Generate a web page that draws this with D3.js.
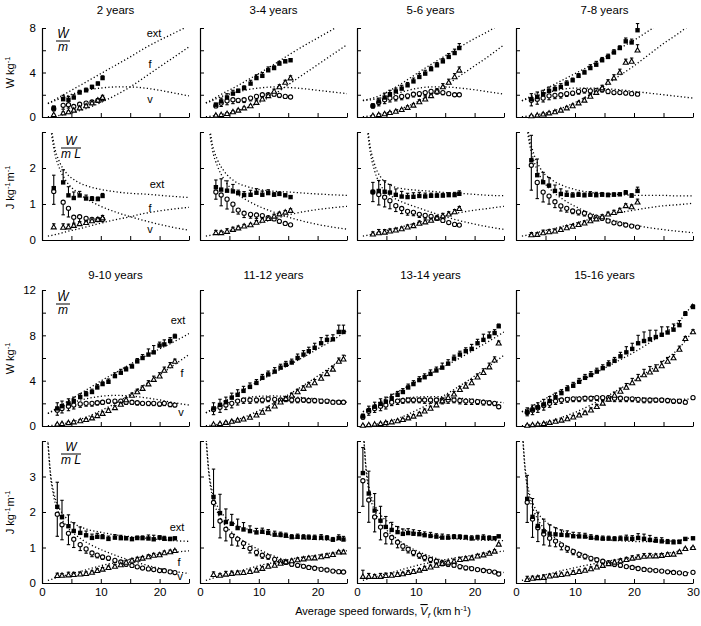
<!DOCTYPE html>
<html>
<head>
<meta charset="utf-8">
<script src="https://cdn.jsdelivr.net/npm/d3@7/dist/d3.min.js"></script>
<style>
body { margin: 0; background: #fff; }
svg text { font-family: "Liberation Sans", Arial, sans-serif; fill: #000; }
</style>
</head>
<body>
<svg id="chart" width="701" height="626"></svg>
<script>
//Age groups, one panel pair per group
var ageGroups = ["2 years", "3-4 years", "5-6 years", "7-8 years",
                 "9-10 years", "11-12 years", "13-14 years", "15-16 years"];

//Measured points: speed (km/h) and mass specific power (W/kg) for ext, f, v
var spd2 = [2.0, 3.6, 4.5, 5.4, 6.4, 7.5, 8.5, 9.5, 10.3];
var ext2 = [0.8, 1.6, 1.55, 1.75, 2.2, 2.4, 2.7, 3.0, 3.5];
var f2 = [0.2, 0.35, 0.45, 0.6, 0.8, 1.0, 1.25, 1.5, 1.75];
var v2 = [0.75, 1.05, 1.1, 0.95, 1.15, 1.25, 1.35, 1.5, 1.65];
var eExt2 = [0.2, 0.35, 0.3, 0.25, 0.2, 0.2, 0.15, 0.15, 0.2];
var eF2 = [0.05, 0.1, 0.1, 0.1, 0.1, 0.1, 0.1, 0.15, 0.2];
var eV2 = [0.2, 0.35, 0.3, 0.3, 0.25, 0.2, 0.15, 0.15, 0.2];

var spd34 = [2.7, 3.6, 4.6, 5.6, 6.5, 7.5, 8.6, 9.6, 10.6, 11.6, 12.6, 13.5, 14.5, 15.4];
var ext34 = [1.1, 1.4, 1.75, 2.1, 2.35, 2.6, 3.0, 3.5, 3.7, 4.2, 4.4, 4.8, 5.0, 5.1];
var f34 = [0.15, 0.2, 0.3, 0.45, 0.6, 0.8, 1.0, 1.3, 1.6, 1.9, 2.3, 2.7, 3.1, 3.5];
var v34 = [1.0, 1.25, 1.45, 1.55, 1.5, 1.55, 1.7, 1.85, 2.0, 2.0, 2.05, 1.95, 1.85, 1.8];
var eExt34 = [0.15, 0.3, 0.35, 0.3, 0.15, 0.2, 0.3, 0.3, 0.3, 0.3, 0.2, 0.2, 0.15, 0.15];
var eF34 = [0.05, 0.05, 0.1, 0.1, 0.1, 0.1, 0.1, 0.15, 0.2, 0.2, 0.2, 0.2, 0.2, 0.2];
var eV34 = [0.15, 0.3, 0.35, 0.35, 0.2, 0.25, 0.25, 0.25, 0.2, 0.2, 0.15, 0.2, 0.15, 0.1];

var spd56 = [2.7, 3.7, 4.7, 5.6, 6.6, 7.6, 8.6, 9.6, 10.6, 11.6, 12.6, 13.6, 14.6, 15.6, 16.6, 17.4];
var ext56 = [1.0, 1.4, 1.75, 2.05, 2.3, 2.55, 2.85, 3.2, 3.6, 3.9, 4.3, 4.65, 5.0, 5.4, 5.75, 6.2];
var f56 = [0.12, 0.2, 0.28, 0.38, 0.5, 0.65, 0.85, 1.05, 1.35, 1.6, 1.9, 2.3, 2.7, 3.1, 3.6, 4.2];
var v56 = [1.0, 1.3, 1.55, 1.7, 1.75, 1.85, 1.9, 2.05, 2.1, 2.2, 2.3, 2.3, 2.2, 2.1, 2.0, 2.0];
var eExt56 = [0.2, 0.3, 0.4, 0.35, 0.3, 0.3, 0.25, 0.3, 0.3, 0.3, 0.25, 0.25, 0.25, 0.3, 0.35, 0.4];
var eF56 = [0.05, 0.1, 0.1, 0.1, 0.1, 0.1, 0.15, 0.15, 0.2, 0.2, 0.25, 0.25, 0.3, 0.3, 0.3, 0.3];
var eV56 = [0.2, 0.3, 0.35, 0.35, 0.3, 0.3, 0.25, 0.25, 0.25, 0.25, 0.25, 0.25, 0.2, 0.15, 0.1, 0.1];

var spd78 = [2.6, 3.6, 4.6, 5.6, 6.6, 7.6, 8.6, 9.6, 10.6, 11.6, 12.6, 13.6, 14.6, 15.6, 16.6, 17.6, 18.6, 19.6, 20.6];
var ext78 = [1.6, 1.8, 2.05, 2.35, 2.5, 2.7, 3.0, 3.3, 3.7, 4.0, 4.4, 4.7, 5.1, 5.4, 5.8, 6.2, 6.8, 6.7, 7.8];
var f78 = [0.1, 0.15, 0.25, 0.35, 0.45, 0.6, 0.8, 1.0, 1.25, 1.5, 1.85, 2.2, 2.6, 3.1, 3.5, 4.0, 4.9, 5.0, 6.0];
var v78 = [1.5, 1.6, 1.7, 1.9, 1.95, 2.0, 2.1, 2.15, 2.3, 2.4, 2.35, 2.4, 2.45, 2.3, 2.2, 2.2, 2.15, 2.1, 2.05];
var eExt78 = [0.5, 0.45, 0.35, 0.35, 0.3, 0.3, 0.25, 0.2, 0.2, 0.2, 0.3, 0.3, 0.25, 0.25, 0.25, 0.2, 0.3, 0.3, 0.6];
var eF78 = [0.05, 0.05, 0.1, 0.1, 0.1, 0.1, 0.15, 0.15, 0.15, 0.2, 0.2, 0.2, 0.25, 0.25, 0.3, 0.3, 0.3, 0.3, 0.5];
var eV78 = [0.5, 0.45, 0.35, 0.35, 0.3, 0.3, 0.25, 0.2, 0.25, 0.25, 0.25, 0.2, 0.2, 0.2, 0.15, 0.15, 0.15, 0.1, 0.1];

var spd910 = [2.6, 3.4, 4.5, 5.4, 6.5, 7.5, 8.5, 9.4, 10.3, 11.3, 12.4, 13.4, 14.3, 15.3, 16.2, 17.1, 18.1, 19.0, 20.0, 20.8, 21.8, 22.6];
var ext910 = [1.55, 1.75, 2.0, 2.2, 2.55, 2.8, 3.0, 3.4, 3.7, 3.9, 4.4, 4.7, 5.0, 5.25, 5.7, 6.0, 6.3, 6.5, 7.1, 7.2, 7.5, 7.9];
var f910 = [0.15, 0.2, 0.28, 0.35, 0.45, 0.55, 0.7, 0.9, 1.1, 1.35, 1.6, 1.9, 2.3, 2.7, 3.0, 3.3, 3.7, 4.1, 4.4, 4.9, 5.3, 5.7];
var v910 = [1.4, 1.55, 1.75, 1.85, 1.95, 2.0, 2.0, 2.05, 2.1, 2.2, 2.2, 2.2, 2.1, 2.1, 2.05, 2.0, 2.0, 2.0, 1.95, 2.0, 1.9, 1.85];
var eExt910 = [0.5, 0.45, 0.4, 0.35, 0.3, 0.25, 0.25, 0.25, 0.2, 0.25, 0.3, 0.3, 0.2, 0.2, 0.25, 0.3, 0.5, 0.6, 0.3, 0.4, 0.3, 0.2];
var eF910 = [0.05, 0.05, 0.1, 0.1, 0.1, 0.1, 0.1, 0.15, 0.15, 0.15, 0.2, 0.2, 0.2, 0.2, 0.25, 0.25, 0.3, 0.3, 0.3, 0.3, 0.3, 0.2];
var eV910 = [0.45, 0.4, 0.4, 0.35, 0.3, 0.25, 0.25, 0.2, 0.2, 0.2, 0.2, 0.2, 0.2, 0.2, 0.2, 0.15, 0.2, 0.2, 0.2, 0.2, 0.2, 0.15];

var spd1112 = [2.3, 3.4, 4.4, 5.4, 6.4, 7.4, 8.5, 9.6, 10.6, 11.6, 12.7, 13.7, 14.6, 15.6, 16.6, 17.6, 18.5, 19.5, 20.6, 21.6, 22.6, 23.6, 24.4];
var ext1112 = [1.55, 1.86, 2.1, 2.5, 2.75, 3.1, 3.45, 3.8, 4.25, 4.55, 4.8, 5.15, 5.4, 5.6, 6.0, 6.3, 6.6, 6.9, 7.3, 7.6, 7.65, 8.3, 8.3];
var f1112 = [0.15, 0.2, 0.3, 0.4, 0.5, 0.6, 0.75, 0.95, 1.2, 1.5, 1.75, 2.1, 2.4, 2.7, 3.0, 3.3, 3.6, 3.8, 4.2, 4.6, 5.0, 5.7, 5.9];
var v1112 = [1.45, 1.65, 1.85, 2.0, 2.2, 2.3, 2.3, 2.3, 2.3, 2.4, 2.35, 2.3, 2.35, 2.3, 2.3, 2.3, 2.25, 2.25, 2.2, 2.2, 2.1, 2.1, 2.1];
var eExt1112 = [0.5, 0.5, 0.45, 0.4, 0.45, 0.4, 0.35, 0.3, 0.3, 0.3, 0.35, 0.3, 0.3, 0.3, 0.35, 0.35, 0.35, 0.4, 0.5, 0.4, 0.4, 0.6, 0.6];
var eF1112 = [0.05, 0.05, 0.1, 0.1, 0.1, 0.1, 0.1, 0.15, 0.15, 0.15, 0.2, 0.2, 0.2, 0.2, 0.25, 0.25, 0.25, 0.3, 0.3, 0.3, 0.3, 0.3, 0.35];
var eV1112 = [0.45, 0.45, 0.4, 0.4, 0.35, 0.3, 0.3, 0.25, 0.25, 0.25, 0.25, 0.2, 0.2, 0.25, 0.25, 0.2, 0.2, 0.2, 0.2, 0.2, 0.15, 0.15, 0.15];

var spd1314 = [1.0, 2.0, 3.0, 4.0, 4.9, 5.9, 6.9, 7.8, 8.7, 9.6, 10.6, 11.5, 12.5, 13.5, 14.5, 15.5, 16.5, 17.5, 18.5, 19.5, 20.5, 21.5, 22.5, 23.4, 24.1];
var ext1314 = [0.86, 1.4, 1.7, 1.95, 2.15, 2.45, 2.75, 3.0, 3.4, 3.7, 4.05, 4.3, 4.6, 4.9, 5.15, 5.5, 5.95, 6.3, 6.6, 6.8, 7.3, 7.6, 7.9, 8.2, 8.8];
var f1314 = [0.05, 0.1, 0.15, 0.2, 0.28, 0.35, 0.45, 0.55, 0.7, 0.85, 1.05, 1.3, 1.55, 1.85, 2.2, 2.5, 2.8, 3.2, 3.5, 3.8, 4.3, 4.7, 5.2, 5.8, 7.3];
var v1314 = [0.8, 1.3, 1.55, 1.75, 1.85, 2.1, 2.2, 2.25, 2.3, 2.3, 2.3, 2.3, 2.3, 2.3, 2.3, 2.3, 2.3, 2.25, 2.2, 2.2, 2.15, 2.1, 2.05, 2.0, 1.7];
var eExt1314 = [0.2, 0.35, 0.4, 0.45, 0.4, 0.35, 0.3, 0.3, 0.3, 0.3, 0.3, 0.3, 0.35, 0.3, 0.4, 0.35, 0.3, 0.3, 0.3, 0.4, 0.35, 0.5, 0.4, 0.3, 0.2];
var eF1314 = [0.05, 0.05, 0.05, 0.1, 0.1, 0.1, 0.1, 0.1, 0.15, 0.15, 0.15, 0.2, 0.2, 0.2, 0.25, 0.25, 0.25, 0.3, 0.3, 0.3, 0.3, 0.35, 0.35, 0.3, 0.2];
var eV1314 = [0.2, 0.35, 0.35, 0.4, 0.35, 0.3, 0.3, 0.25, 0.25, 0.25, 0.25, 0.3, 0.3, 0.3, 0.35, 0.3, 0.25, 0.3, 0.3, 0.3, 0.25, 0.25, 0.2, 0.2, 0.15];

var spd1516 = [1.9, 2.8, 3.7, 4.7, 5.7, 6.7, 7.7, 8.7, 9.7, 10.7, 11.7, 12.7, 13.7, 14.7, 15.7, 16.7, 17.7, 18.7, 19.7, 20.7, 21.7, 22.7, 23.7, 24.7, 25.7, 26.7, 27.7, 28.7, 30.0];
var ext1516 = [1.25, 1.45, 1.65, 1.9, 2.2, 2.55, 2.9, 3.25, 3.55, 3.9, 4.25, 4.5, 4.8, 5.1, 5.45, 5.75, 6.15, 6.5, 6.8, 7.3, 7.5, 7.65, 7.85, 8.05, 8.25, 8.5, 8.9, 9.9, 10.5];
var f1516 = [0.05, 0.1, 0.15, 0.2, 0.3, 0.4, 0.5, 0.62, 0.78, 0.95, 1.15, 1.4, 1.7, 2.0, 2.35, 2.7, 3.05, 3.4, 3.8, 4.15, 4.5, 4.75, 5.0, 5.3, 5.7, 6.0, 6.75, 7.7, 8.3];
var v1516 = [1.2, 1.4, 1.6, 1.8, 2.0, 2.2, 2.3, 2.35, 2.4, 2.4, 2.45, 2.45, 2.5, 2.5, 2.5, 2.45, 2.45, 2.4, 2.4, 2.35, 2.3, 2.3, 2.3, 2.3, 2.25, 2.2, 2.2, 2.1, 2.5];
var eExt1516 = [0.35, 0.4, 0.4, 0.45, 0.4, 0.35, 0.3, 0.3, 0.3, 0.3, 0.3, 0.3, 0.3, 0.3, 0.3, 0.3, 0.35, 0.5, 0.5, 0.7, 0.8, 0.8, 0.6, 0.7, 0.5, 0.5, 0.4, 0.2, 0.2];
var eF1516 = [0.05, 0.05, 0.05, 0.1, 0.1, 0.1, 0.1, 0.1, 0.15, 0.15, 0.15, 0.2, 0.2, 0.25, 0.25, 0.3, 0.3, 0.35, 0.4, 0.4, 0.5, 0.5, 0.4, 0.4, 0.35, 0.3, 0.3, 0.2, 0.2];
var eV1516 = [0.3, 0.4, 0.4, 0.4, 0.35, 0.3, 0.3, 0.25, 0.25, 0.25, 0.25, 0.25, 0.25, 0.3, 0.3, 0.3, 0.3, 0.25, 0.25, 0.25, 0.25, 0.25, 0.2, 0.2, 0.2, 0.2, 0.2, 0.15, 0.15];

//Model curves (dotted lines), W/kg read at these speeds
var curveSpeeds = [1, 1.5, 2, 3, 4, 6, 8, 10, 12.5, 15, 17.5, 20, 22.5, 25, 27.5, 30];
var cExt2 = [1.23, 1.36, 1.5, 1.8, 2.1, 2.7, 3.3, 3.9, 4.65, 5.4, 6.2, 6.9, 7.55, 8.2, 8.9, 9.6];
var cF2 = [0.03, 0.05, 0.08, 0.15, 0.25, 0.5, 0.85, 1.3, 1.95, 2.7, 3.6, 4.5, 5.4, 6.3, 7.2, 8.1];
var cV2 = [1.2, 1.31, 1.42, 1.65, 1.85, 2.2, 2.45, 2.6, 2.7, 2.7, 2.6, 2.4, 2.15, 1.9, 1.7, 1.5];
var cExt34 = [1.28, 1.4, 1.53, 1.85, 2.15, 2.7, 3.3, 3.9, 4.7, 5.55, 6.35, 7.1, 7.85, 8.6, 9.35, 10.1];
var cF34 = [0.03, 0.05, 0.08, 0.15, 0.25, 0.5, 0.85, 1.3, 2.0, 2.9, 3.8, 4.7, 5.6, 6.5, 7.4, 8.3];
var cV34 = [1.25, 1.35, 1.45, 1.7, 1.9, 2.2, 2.45, 2.6, 2.7, 2.65, 2.55, 2.4, 2.25, 2.1, 1.95, 1.8];
var cExt56 = [1.5, 1.55, 1.6, 1.75, 1.95, 2.5, 3.15, 3.85, 4.7, 5.5, 6.3, 7.05, 7.75, 8.55, 9.25, 9.95];
var cF56 = [0.03, 0.05, 0.08, 0.15, 0.25, 0.5, 0.85, 1.3, 2.0, 2.8, 3.7, 4.6, 5.5, 6.5, 7.4, 8.3];
var cV56 = [1.47, 1.5, 1.52, 1.6, 1.7, 2.0, 2.3, 2.55, 2.7, 2.7, 2.6, 2.45, 2.25, 2.05, 1.85, 1.65];
var cExt78 = [1.48, 1.6, 1.73, 2.0, 2.25, 2.8, 3.35, 3.9, 4.6, 5.35, 6.15, 6.9, 7.75, 8.6, 9.35, 10.2];
var cF78 = [0.03, 0.05, 0.08, 0.15, 0.25, 0.5, 0.85, 1.3, 2.0, 2.8, 3.7, 4.6, 5.6, 6.6, 7.5, 8.5];
var cV78 = [1.45, 1.55, 1.65, 1.85, 2.0, 2.3, 2.5, 2.6, 2.6, 2.55, 2.45, 2.3, 2.15, 2.0, 1.85, 1.7];
var cExt910 = [1.12, 1.26, 1.42, 1.74, 2.06, 2.7, 3.33, 3.97, 4.7, 5.45, 6.15, 6.8, 7.45, 8.15, 8.75, 9.35];
var cF910 = [0.02, 0.04, 0.07, 0.14, 0.24, 0.5, 0.88, 1.35, 2.0, 2.8, 3.65, 4.5, 5.4, 6.3, 7.1, 7.9];
var cV910 = [1.1, 1.22, 1.35, 1.6, 1.82, 2.2, 2.45, 2.62, 2.7, 2.65, 2.5, 2.3, 2.05, 1.85, 1.65, 1.45];
var cExt1112 = [1.17, 1.32, 1.47, 1.79, 2.12, 2.75, 3.38, 3.97, 4.65, 5.35, 6.05, 6.8, 7.55, 8.4, 9.05, 9.7];
var cF1112 = [0.02, 0.04, 0.07, 0.14, 0.24, 0.5, 0.88, 1.35, 2.0, 2.75, 3.55, 4.4, 5.3, 6.3, 7.1, 7.9];
var cV1112 = [1.15, 1.28, 1.4, 1.65, 1.88, 2.25, 2.5, 2.62, 2.65, 2.6, 2.5, 2.4, 2.25, 2.1, 1.95, 1.8];
var cExt1314 = [1.27, 1.39, 1.52, 1.84, 2.14, 2.75, 3.33, 3.9, 4.6, 5.3, 6.0, 6.75, 7.5, 8.3, 9.0, 9.65];
var cF1314 = [0.02, 0.04, 0.07, 0.14, 0.24, 0.5, 0.88, 1.35, 2.0, 2.75, 3.55, 4.4, 5.3, 6.25, 7.1, 7.9];
var cV1314 = [1.25, 1.35, 1.45, 1.7, 1.9, 2.25, 2.45, 2.55, 2.6, 2.55, 2.45, 2.35, 2.2, 2.05, 1.9, 1.75];
var cExt1516 = [1.27, 1.39, 1.52, 1.83, 2.12, 2.7, 3.25, 3.75, 4.4, 5.1, 5.8, 6.5, 7.3, 8.15, 9.15, 10.8];
var cF1516 = [0.02, 0.04, 0.07, 0.13, 0.22, 0.45, 0.8, 1.2, 1.8, 2.5, 3.25, 4.0, 4.85, 5.75, 6.8, 8.4];
var cV1516 = [1.25, 1.35, 1.45, 1.7, 1.9, 2.25, 2.45, 2.55, 2.6, 2.6, 2.55, 2.5, 2.45, 2.4, 2.35, 2.4];

//Table for drawing, built from the arrays above
var panels = [
    { speed: spd2, ext: ext2, f: f2, v: v2, eExt: eExt2, eF: eF2, eV: eV2, cExt: cExt2, cF: cF2, cV: cV2 },
    { speed: spd34, ext: ext34, f: f34, v: v34, eExt: eExt34, eF: eF34, eV: eV34, cExt: cExt34, cF: cF34, cV: cV34 },
    { speed: spd56, ext: ext56, f: f56, v: v56, eExt: eExt56, eF: eF56, eV: eV56, cExt: cExt56, cF: cF56, cV: cV56 },
    { speed: spd78, ext: ext78, f: f78, v: v78, eExt: eExt78, eF: eF78, eV: eV78, cExt: cExt78, cF: cF78, cV: cV78 },
    { speed: spd910, ext: ext910, f: f910, v: v910, eExt: eExt910, eF: eF910, eV: eV910, cExt: cExt910, cF: cF910, cV: cV910 },
    { speed: spd1112, ext: ext1112, f: f1112, v: v1112, eExt: eExt1112, eF: eF1112, eV: eV1112, cExt: cExt1112, cF: cF1112, cV: cV1112 },
    { speed: spd1314, ext: ext1314, f: f1314, v: v1314, eExt: eExt1314, eF: eF1314, eV: eV1314, cExt: cExt1314, cF: cF1314, cV: cV1314 },
    { speed: spd1516, ext: ext1516, f: f1516, v: v1516, eExt: eExt1516, eF: eF1516, eV: eV1516, cExt: cExt1516, cF: cF1516, cV: cV1516 }
];
panels.forEach(function (p, i) { p.age = ageGroups[i]; });

//Layout
var colX = [[42, 189], [200, 347], [357, 504], [516, 693]];
var rowW = [[117, 28], [426, 290]];
var rowJ = [[240, 132], [583, 441]];
var maxW = [8, 12];
var maxJ = [3, 4];

var svg = d3.select("#chart");

//W/kg -> J/kg/m (divide by speed in m/s)
function perMetre(w, s) {
    return w * 3.6 / s;
}

function drawPanel(p, i, kind) {
    var blk = Math.floor(i / 4);
    var col = i % 4;
    var xMax = col == 3 ? 30 : 25;
    var yMax = kind == "W" ? maxW[blk] : maxJ[blk];
    var yStep = kind == "W" ? 2 : 1;
    var x = d3.scaleLinear().domain([0, xMax]).range(colX[col]);
    var y = d3.scaleLinear().domain([0, yMax]).range(kind == "W" ? rowW[blk] : rowJ[blk]);
    var conv = function (w, s) { return kind == "W" ? w : perMetre(w, s); };

    var g = svg.append("g");

    //Clip for model curves
    var clipId = "clip" + kind + i;
    svg.append("clipPath").attr("id", clipId).append("rect")
        .attr("x", x(0)).attr("y", y(yMax))
        .attr("width", x(xMax) - x(0)).attr("height", y(0) - y(yMax));

    //Axes
    var showX = kind == "J" && blk == 1;
    var xAxis = d3.axisBottom(x)
        .tickValues(d3.range(0, xMax + 0.1, 5))
        .tickSizeInner(-4).tickSizeOuter(0).tickPadding(5)
        .tickFormat(function (d) { return showX && d % 10 == 0 ? d : ""; });
    g.append("g").attr("transform", "translate(0," + y(0) + ")").call(xAxis);

    var yAxis = d3.axisLeft(y)
        .tickValues(d3.range(0, yMax + 0.1, yStep))
        .tickSizeInner(-4).tickSizeOuter(0).tickPadding(6)
        .tickFormat(function (d) {
            if (col != 0) return "";
            if (kind == "W") return d % 4 == 0 ? d : "";
            return d < yMax ? d : "";
        });
    g.append("g").attr("transform", "translate(" + x(0) + ",0)").call(yAxis);

    g.selectAll(".domain").attr("stroke", "#000").attr("stroke-width", 1.2);
    g.selectAll(".tick line").attr("stroke", "#000");
    g.selectAll(".tick text").attr("font-size", 11.5).attr("fill", "#000")
        .attr("font-family", "'Liberation Sans', Arial, sans-serif");

    //Model curves
    var line = d3.line()
        .x(function (d) { return x(d[0]); })
        .y(function (d) { return y(d[1]); })
        .curve(d3.curveMonotoneX);
    [p.cExt, p.cF, p.cV].forEach(function (c) {
        var pts = [];
        curveSpeeds.forEach(function (s, k) {
            if (s <= xMax) pts.push([s, conv(c[k], s)]);
        });
        g.append("path")
            .attr("d", line(pts))
            .attr("clip-path", "url(#" + clipId + ")")
            .attr("fill", "none")
            .attr("stroke", "#000")
            .attr("stroke-width", 1.3)
            .attr("stroke-dasharray", "1.2,2.3");
    });

    //Error bars: ext and f upward, v downward
    function bars(vals, errs, dir) {
        p.speed.forEach(function (s, k) {
            var y0 = y(conv(vals[k], s));
            var y1 = y(conv(vals[k] + dir * errs[k], s));
            var cx = x(s);
            g.append("line").attr("x1", cx).attr("x2", cx).attr("y1", y0).attr("y2", y1)
                .attr("stroke", "#000").attr("stroke-width", 1.1);
            g.append("line").attr("x1", cx - 1.7).attr("x2", cx + 1.7).attr("y1", y1).attr("y2", y1)
                .attr("stroke", "#000").attr("stroke-width", 1.1);
        });
    }
    bars(p.ext, p.eExt, 1);
    bars(p.f, p.eF, 1);
    bars(p.v, p.eV, -1);

    //Markers
    p.speed.forEach(function (s, k) {
        var cx = x(s);
        var yv = y(conv(p.v[k], s));
        g.append("circle").attr("cx", cx).attr("cy", yv).attr("r", 2.1)
            .attr("fill", "#fff").attr("stroke", "#000").attr("stroke-width", 1.1);
        var yf = y(conv(p.f[k], s));
        g.append("path")
            .attr("d", "M" + cx + "," + (yf - 2.6) + "L" + (cx + 2.5) + "," + (yf + 1.8) + "L" + (cx - 2.5) + "," + (yf + 1.8) + "Z")
            .attr("fill", "#fff").attr("stroke", "#000").attr("stroke-width", 1.1);
        var ye = y(conv(p.ext[k], s));
        g.append("rect").attr("x", cx - 2.2).attr("y", ye - 2.2).attr("width", 4.4).attr("height", 4.4)
            .attr("fill", "#000");
    });
}

panels.forEach(function (p, i) {
    drawPanel(p, i, "W");
    drawPanel(p, i, "J");
});

//Panel titles
var titleY = [14, 279];
panels.forEach(function (p, i) {
    var col = i % 4;
    svg.append("text")
        .attr("x", (colX[col][0] + colX[col][1]) / 2)
        .attr("y", titleY[Math.floor(i / 4)])
        .attr("text-anchor", "middle")
        .attr("font-size", 11.5)
        .text(p.age);
});

//Y axis titles
function yTitle(cx, cy, parts) {
    var t = svg.append("text")
        .attr("transform", "translate(" + cx + "," + cy + ") rotate(-90)")
        .attr("text-anchor", "middle")
        .attr("font-size", 11);
    parts.forEach(function (pt) {
        if (pt.sup) {
            t.append("tspan").attr("font-size", 7.5).attr("dy", -4).text(pt.t);
            t.append("tspan").attr("dy", 4).text("\u200a");
        } else {
            t.append("tspan").text(pt.t);
        }
    });
}
var wLabel = [{ t: "W kg" }, { t: "-1", sup: true }];
var jLabel = [{ t: "J kg" }, { t: "-1", sup: true }, { t: "m" }, { t: "-1", sup: true }];
yTitle(14, 72, wLabel);
yTitle(14, 187, jLabel);
yTitle(14, 358, wLabel);
yTitle(14, 512, jLabel);

//Fraction symbols in the left panels
function fracW(cx, top) {
    svg.append("circle").attr("cx", cx + 1).attr("cy", top - 10).attr("r", 1).attr("fill", "#000");
    svg.append("text").attr("x", cx).attr("y", top).attr("text-anchor", "middle")
        .attr("font-size", 12).attr("font-style", "italic").text("W");
    svg.append("line").attr("x1", cx - 7).attr("x2", cx + 7).attr("y1", top + 3).attr("y2", top + 3)
        .attr("stroke", "#000").attr("stroke-width", 1);
    svg.append("text").attr("x", cx).attr("y", top + 13).attr("text-anchor", "middle")
        .attr("font-size", 12).attr("font-style", "italic").text("m");
}
function fracJ(cx, top) {
    svg.append("text").attr("x", cx).attr("y", top).attr("text-anchor", "middle")
        .attr("font-size", 12).attr("font-style", "italic").text("W");
    svg.append("line").attr("x1", cx - 10).attr("x2", cx + 10).attr("y1", top + 3).attr("y2", top + 3)
        .attr("stroke", "#000").attr("stroke-width", 1);
    svg.append("text").attr("x", cx).attr("y", top + 13).attr("text-anchor", "middle")
        .attr("font-size", 12).attr("font-style", "italic").text("m L");
}
fracW(63, 38);
fracJ(71, 145);
fracW(63, 301);
fracJ(71, 451);

//Curve labels
var curveLabels = [
    { t: "ext", x: 154, y: 37 }, { t: "f", x: 150, y: 68 }, { t: "v", x: 150, y: 103 },
    { t: "ext", x: 157, y: 188 }, { t: "f", x: 150, y: 212 }, { t: "v", x: 150, y: 233 },
    { t: "ext", x: 178, y: 324 }, { t: "f", x: 182, y: 377 }, { t: "v", x: 181, y: 416 },
    { t: "ext", x: 177, y: 531 }, { t: "f", x: 179, y: 566 }, { t: "v", x: 180, y: 580 }
];
curveLabels.forEach(function (d) {
    svg.append("text").attr("x", d.x).attr("y", d.y).attr("text-anchor", "middle")
        .attr("font-size", 11).text(d.t);
});

//X axis title
var xt = svg.append("text").attr("x", 383).attr("y", 615).attr("text-anchor", "middle").attr("font-size", 11);
xt.append("tspan").text("Average speed forwards,  ");
xt.append("tspan").attr("font-style", "italic").style("text-decoration", "overline").text("V");
xt.append("tspan").attr("font-style", "italic").attr("font-size", 8).attr("dy", 3).text("f");
xt.append("tspan").attr("dy", -3).text(" (km h");
xt.append("tspan").attr("font-size", 7.5).attr("dy", -4).text("-1");
xt.append("tspan").attr("dy", 4).text(")");
</script>
</body>
</html>
